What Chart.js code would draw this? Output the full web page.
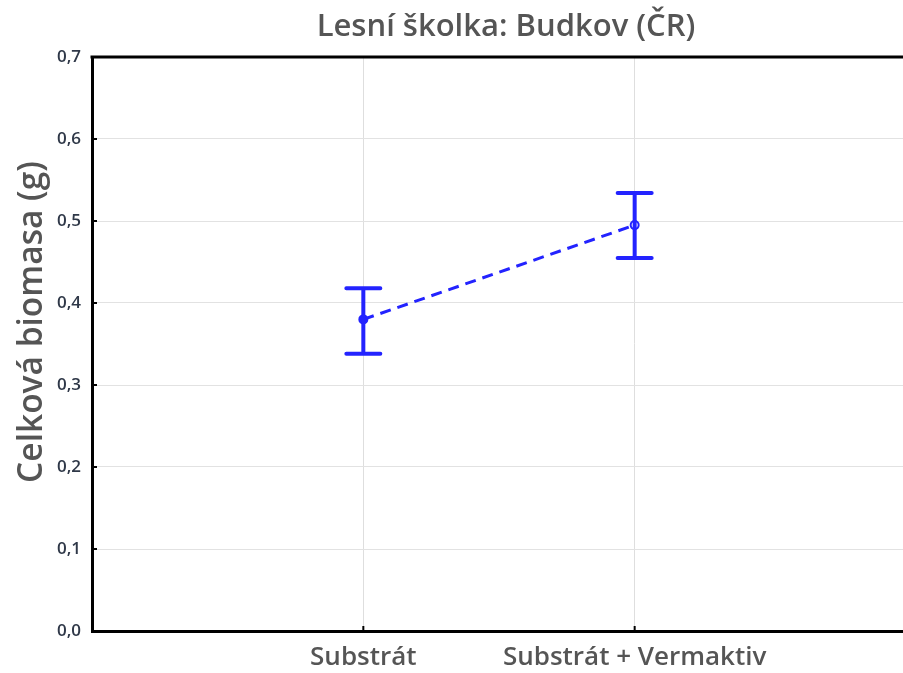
<!DOCTYPE html>
<html>
<head>
<meta charset="utf-8">
<script src="https://cdn.jsdelivr.net/npm/chart.js@4/dist/chart.umd.min.js"></script>
<style>
  html, body { margin: 0; padding: 0; background: #fff; overflow: hidden; }
  canvas { display: block; }
</style>
</head>
<body>
<canvas id="biomasaChart" width="912" height="673"></canvas>
<script>
const chartTitle = 'Lesní školka: Budkov (ČR)';
const yTitle = 'Celková biomasa (g)';
const categories = ['Substrát', 'Substrát + Vermaktiv'];
const means = [0.380, 0.495];
const lower = [0.338, 0.455];
const upper = [0.418, 0.534];
const yTicks = [0, 0.1, 0.2, 0.3, 0.4, 0.5, 0.6, 0.7];

const blue = '#2323ff';

// error bars, frame, inward ticks and titles
const extras = {
    id: 'extras',
    afterDatasetsDraw(chart) {
        const c = chart.ctx;
        const xs = chart.scales.x;
        const ys = chart.scales.y;
        const area = chart.chartArea;
        c.save();
        c.strokeStyle = blue;
        c.lineWidth = 4;
        c.lineCap = 'round';
        for (let i = 0; i < categories.length; i++) {
            const px = xs.getPixelForValue(i + 1);
            const top = ys.getPixelForValue(upper[i]);
            const bot = ys.getPixelForValue(lower[i]);
            c.beginPath();
            c.moveTo(px, top); c.lineTo(px, bot);
            c.moveTo(px - 17, top); c.lineTo(px + 17, top);
            c.moveTo(px - 17, bot); c.lineTo(px + 17, bot);
            c.stroke();
        }
        // top frame line
        c.strokeStyle = '#000';
        c.lineWidth = 3;
        c.lineCap = 'butt';
        c.beginPath();
        c.moveTo(area.left - 1.5, area.top);
        c.lineTo(area.right, area.top);
        c.stroke();
        // inward tick marks
        c.lineWidth = 2;
        c.beginPath();
        yTicks.forEach(v => {
            const py = ys.getPixelForValue(v);
            c.moveTo(area.left, py); c.lineTo(area.left + 5, py);
        });
        categories.forEach((cat, i) => {
            const px = xs.getPixelForValue(i + 1);
            c.moveTo(px, area.bottom); c.lineTo(px, area.bottom - 5);
        });
        c.stroke();
        // titles
        c.fillStyle = '#555';
        c.textAlign = 'center';
        c.textBaseline = 'middle';
        c.font = '600 31px "Open Sans"';
        c.fillText(chartTitle, 506, 27);
        c.translate(32, 322);
        c.rotate(-Math.PI / 2);
        c.font = '600 33.5px "Open Sans"';
        c.fillText(yTitle, 0, 0);
        c.restore();
    }
};

const ctx = document.getElementById('biomasaChart').getContext('2d');
const chart = new Chart(ctx, {
    type: 'line',
    data: {
        datasets: [{
            data: means.map((m, i) => ({ x: i + 1, y: m })),
            borderColor: blue,
            borderWidth: 3,
            borderDash: [11, 7],
            pointRadius: 4,
            pointBorderWidth: 2,
            pointBorderColor: blue,
            pointBackgroundColor: [blue, '#fff'],
            fill: false,
            tension: 0
        }]
    },
    options: {
        responsive: false,
        animation: false,
        devicePixelRatio: 1,
        layout: { padding: { top: 57, right: 6, left: 0, bottom: 0 } },
        plugins: {
            legend: { display: false },
            tooltip: { enabled: false }
        },
        scales: {
            x: {
                type: 'linear',
                min: 0,
                max: 3,
                afterBuildTicks: axis => { axis.ticks = categories.map((c, i) => ({ value: i + 1 })); },
                afterFit: axis => { axis.height = 42; },
                ticks: {
                    callback: v => categories[v - 1] || '',
                    color: '#555',
                    font: { family: 'Open Sans', size: 26, weight: 600 },
                    padding: 11,
                    maxRotation: 0
                },
                grid: { color: '#dedede', lineWidth: 1, drawTicks: false },
                border: { color: '#000', width: 3 }
            },
            y: {
                min: 0,
                max: 0.7,
                afterBuildTicks: axis => { axis.ticks = yTicks.map(v => ({ value: v })); },
                afterFit: axis => { axis.width = 92; },
                ticks: {
                    callback: v => v.toFixed(1).replace('.', ','),
                    color: '#2f3848',
                    font: { family: 'Open Sans', size: 17, weight: 600 },
                    padding: 11
                },
                grid: { color: '#e2e2e2', lineWidth: 1, drawTicks: false },
                border: { color: '#000', width: 3 }
            }
        }
    },
    plugins: [extras]
});
</script>
</body>
</html>
